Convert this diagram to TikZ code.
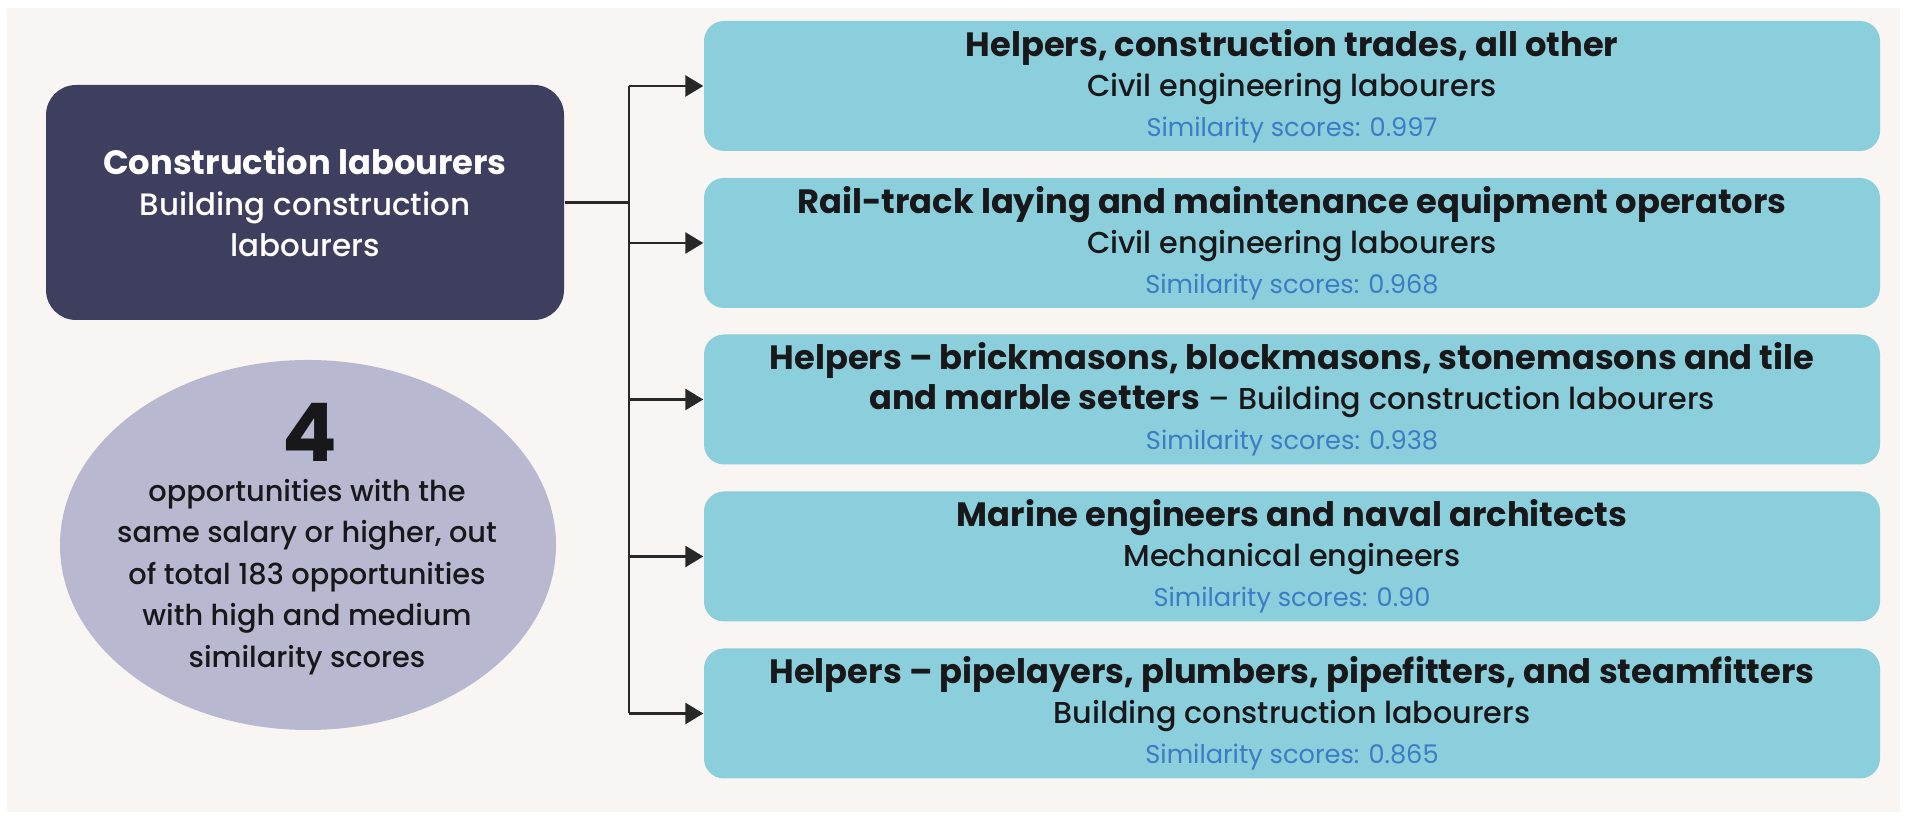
\documentclass[tikz,border=0pt]{standalone}
\usepackage{fontspec}
\setmainfont{Poppins}
\newfontfamily\medfont{Poppins Medium}
\usepackage{tikz}
\usetikzlibrary{shapes.geometric, arrows.meta, positioning, calc}
\usepackage{xcolor}
\definecolor{panelBeige}{RGB}{248, 245, 242}
\definecolor{labourNavy}{RGB}{62, 63, 95}
\definecolor{countLilac}{RGB}{184, 185, 209}
\definecolor{matchTeal}{RGB}{139, 207, 220}
\definecolor{scoreBlue}{RGB}{59, 124, 196}
\definecolor{inkDark}{RGB}{24, 24, 26}
\definecolor{wireGray}{RGB}{40, 40, 40}
\newcommand{\subline}[1]{{\medfont\fontsize{8.6}{11.4}\selectfont #1}}
\newcommand{\scoreline}[1]{{\fontsize{7.3}{11.4}\selectfont\color{scoreBlue} Similarity scores: #1}}

\begin{document}
\begin{tikzpicture}[
    every node/.style={text=inkDark},
    source/.style={rectangle, rounded corners=0.3cm, fill=labourNavy, minimum width=5.18cm, minimum height=2.35cm, align=center, text=white, font=\fontsize{9.6}{11.7}\selectfont},
    countblob/.style={ellipse, fill=countLilac, minimum width=4.96cm, minimum height=3.70cm, inner sep=0pt},
    counttext/.style={align=center, font=\medfont\fontsize{8.2}{11.8}\selectfont},
    match/.style={rectangle, rounded corners=0.2cm, fill=matchTeal, minimum width=11.76cm, minimum height=1.30cm, align=center, inner sep=0pt, font=\fontsize{9.6}{11.4}\selectfont},
    link/.style={-{Triangle[length=0.18cm, width=0.21cm]}, draw=wireGray, line width=0.75pt},
    wire/.style={draw=wireGray, line width=0.75pt},
]
\fill[white] (0, 0) rectangle (19.06, 8.18);
\useasboundingbox (0, 0) rectangle (19.06, 8.18);
\fill[panelBeige] (0.07, 0.06) rectangle (19.00, 8.10);
% source occupation
\node[source] (L) at (3.05, 6.155) {{\bfseries Construction labourers}\\
{\medfont\fontsize{8.8}{11.7}\selectfont Building construction}\\
{\medfont\fontsize{8.8}{11.7}\selectfont labourers}};
% count of opportunities
\node[countblob] (C) at (3.08, 2.73) {};
\node (Cnum) at (3.10, 3.86) {\fontsize{23}{24}\selectfont\bfseries 4};
\node[counttext] (Ctext) at (3.07, 2.41) {opportunities with the\\
same salary or higher, out\\ of total 183 opportunities\\ with high and medium\\ similarity scores};
% matching occupations
\node[match] (M1) at (12.92, 7.32) {{\bfseries Helpers, construction trades, all other}\\
\subline{Civil engineering labourers}\\ \scoreline{0.997}};
\node[match] (M2) at (12.92, 5.75) {{\bfseries Rail-track laying and maintenance equipment operators}\\
\subline{Civil engineering labourers}\\ \scoreline{0.968}};
\node[match] (M3) at (12.92, 4.185) {{\bfseries Helpers – brickmasons, blockmasons, stonemasons and tile}\\
{\bfseries and marble setters} \subline{– Building construction labourers}\\ \scoreline{0.938}};
\node[match] (M4) at (12.92, 2.615) {{\bfseries Marine engineers and naval architects}\\
\subline{Mechanical engineers}\\ \scoreline{0.90}};
\node[match] (M5) at (12.92, 1.045) {{\bfseries Helpers – pipelayers, plumbers, pipefitters, and steamfitters}\\
\subline{Building construction labourers}\\ \scoreline{0.865}};
% connectors
\foreach \i in {1,...,5} {
    \coordinate (T\i) at (6.29, 0 |- M\i.west);
    \draw[link] (T\i) -- (M\i.west);
}
\coordinate (Tmid) at (6.29, 0 |- L.east);
\draw[wire] (L.east) -- (Tmid);
\draw[wire] (T1) -- (T5);
\end{tikzpicture}
\end{document}
